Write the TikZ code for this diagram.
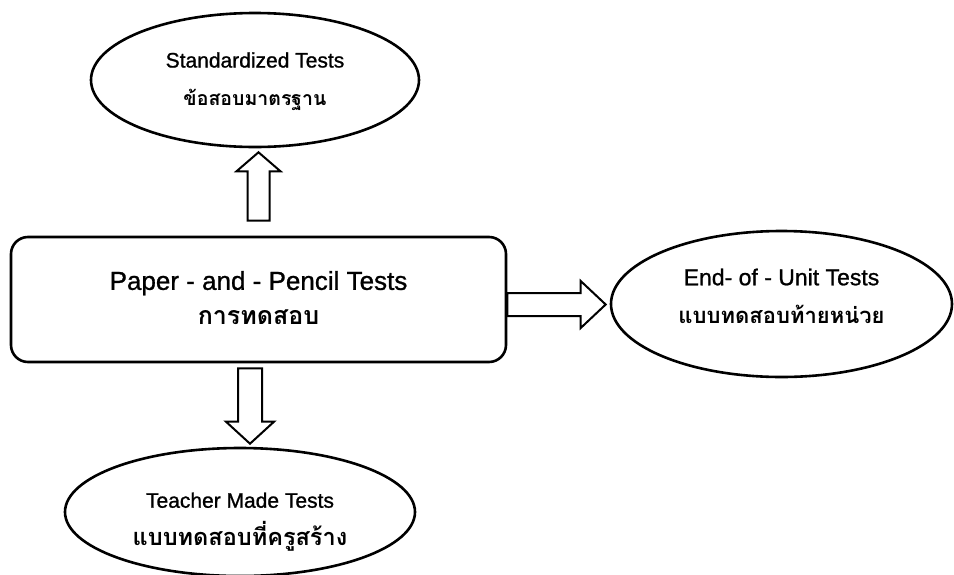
\documentclass[tikz,border=0pt]{standalone}
\usepackage{fontspec}
\setmainfont{Liberation Sans}[FakeBold=1]
\newfontfamily\thai[Script=Thai]{Loma}
\usetikzlibrary{calc,shapes.geometric}

\tikzset{
  oval/.style={draw,line width=2.6pt,ellipse,inner sep=0pt},
  mainbox/.style={draw,line width=2.6pt,rounded corners=17pt,inner sep=0pt},
  caption/.style={align=center,inner sep=0pt,font=\fontsize{#1}{38}\selectfont},
  blockarrow/.style={draw,line width=2pt,line join=miter,fill=white}
}
\newcommand{\thaitext}[2]{{\thai\bfseries\fontsize{#1}{38}\selectfont #2}}

\begin{document}
\begin{tikzpicture}[x=1pt,y=1pt]
\useasboundingbox (0,0) rectangle (954,-574);
\begin{scope}
\clip (0,0) rectangle (954,-574);
\node[mainbox,minimum width=495pt,minimum height=125pt] (paper) at (258.5,-299.5) {};
\node[oval,minimum width=328pt,minimum height=134pt] (standard) at (255,-80) {};
\node[oval,minimum width=341pt,minimum height=146pt] (unit) at (781.5,-304) {};
\node[oval,minimum width=350pt,minimum height=128pt] (teacher) at (240,-512) {};
\end{scope}

\node[caption=26] (papertext) at ($(paper)+(0,1.5)$)
  {Paper - and - Pencil Tests\\[-3pt]\thaitext{25}{การทดสอบ}};
\node[caption=21] (standardtext) at ($(standard)+(0,-1.5)$)
  {Standardized Tests\\\thaitext{19.5}{ข้อสอบมาตรฐาน}};
\node[caption=23] (unittext) at ($(unit)+(0,8)$)
  {End- of - Unit Tests\\\thaitext{22}{แบบทดสอบท้ายหน่วย}};
\node[caption=21] (teachertext) at ($(teacher)+(0,-10)$)
  {Teacher Made Tests\\\thaitext{23.5}{แบบทดสอบที่ครูสร้าง}};

% up to the standardized tests
\coordinate (upfoot) at ($(paper.north)+(0,15)$);
\coordinate (uptip) at ($(upfoot |- standard.south)+(0,-4)$);
\draw[blockarrow] ($(upfoot)+(-11,0)$) -- ($(uptip)+(-11,-19)$) -- ($(uptip)+(-22,-19)$)
  -- (uptip) -- ($(uptip)+(22,-19)$) -- ($(uptip)+(11,-19)$) -- ($(upfoot)+(11,0)$) -- cycle;

% right to the end-of-unit tests
\coordinate (rfoot) at ($(paper.east)+(0,-5)$);
\coordinate (rtip) at ($(rfoot -| unit.west)+(-4,0)$);
\draw[blockarrow] ($(rfoot)+(0,11.5)$) -- ($(rtip)+(-25,11.5)$) -- ($(rtip)+(-25,23.5)$)
  -- (rtip) -- ($(rtip)+(-25,-23.5)$) -- ($(rtip)+(-25,-11.5)$) -- ($(rfoot)+(0,-11.5)$) -- cycle;

% down to the teacher made tests
\coordinate (dfoot) at ($(paper.south)+(-8.5,-5)$);
\coordinate (dtip) at ($(dfoot |- teacher.north)+(0,3)$);
\draw[blockarrow] ($(dfoot)+(-12,0)$) -- ($(dtip)+(-12,22)$) -- ($(dtip)+(-24,22)$)
  -- (dtip) -- ($(dtip)+(24,22)$) -- ($(dtip)+(12,22)$) -- ($(dfoot)+(12,0)$) -- cycle;
\end{tikzpicture}
\end{document}
